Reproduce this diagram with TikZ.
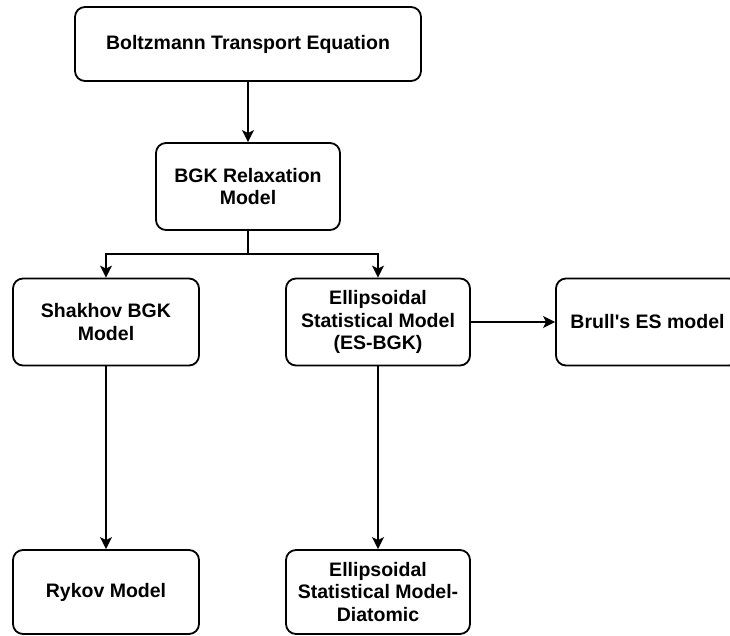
\documentclass[tikz,border=0pt]{standalone}
\usepackage{fontspec}
\setmainfont{Liberation Sans}[Ligatures=TeXOff]
\usetikzlibrary{arrows.meta}
\begin{document}
\begin{tikzpicture}[x=1pt,y=-1pt,
  model/.style={draw, line width=1.8pt, rounded corners=10pt, align=center,
    inner sep=0pt, font=\fontsize{19.5}{22.5}\selectfont\bfseries},
  link/.style={line width=1.8pt, -{Stealth[length=12pt,width=12pt,inset=3pt]}}]
  \useasboundingbox (0,0) rectangle (730,635);
  \node[model, minimum width=346pt, minimum height=74pt] (bte) at (248,44) {Boltzmann Transport Equation};
  \node[model, minimum width=184pt, minimum height=87pt] (bgk) at (248,186.5) {BGK Relaxation\\Model};
  \node[model, minimum width=186pt, minimum height=87pt] (shk) at (106,322) {Shakhov BGK\\Model};
  \node[model, minimum width=184pt, minimum height=87pt] (esb) at (378,322) {Ellipsoidal\\Statistical Model\\(ES-BGK)};
  \node[model, minimum width=183pt, minimum height=87pt] (brl) at (647.5,322) {Brull's ES model};
  \node[model, minimum width=186pt, minimum height=84pt] (ryk) at (106,592) {Rykov Model};
  \node[model, minimum width=184pt, minimum height=84pt] (dia) at (378,592) {Ellipsoidal\\Statistical Model-\\Diatomic};
  \coordinate (split) at (248,254);
  \draw[link] (bte) -- (bgk);
  \draw[link] (bgk.south) -- (split) -| (shk.north);
  \draw[link] (split) -| (esb.north);
  \draw[link] (esb) -- (brl);
  \draw[link] (shk) -- (ryk);
  \draw[link] (esb) -- (dia);
\end{tikzpicture}
\end{document}
